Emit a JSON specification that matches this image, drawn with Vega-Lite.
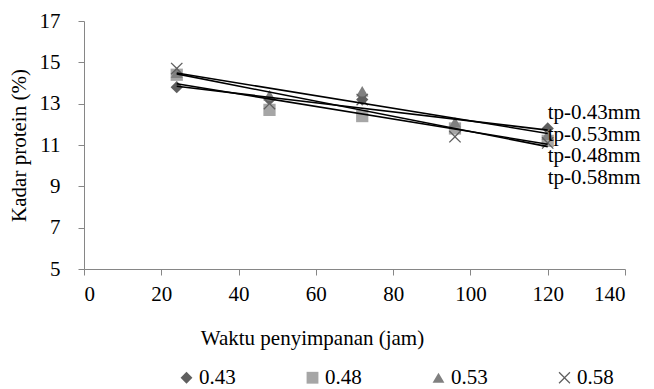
{
  "$schema": "https://vega.github.io/schema/vega-lite/v6.json",
  "width": 541,
  "height": 248,
  "padding": {"left": 8, "top": 10, "right": 5, "bottom": 0},
  "background": "white",
  "config": {
    "font": "Liberation Serif",
    "view": {"stroke": null},
    "axis": {"labelFont": "Liberation Serif", "titleFont": "Liberation Serif", "labelFontSize": 21, "titleFontSize": 21, "titleFontWeight": "normal", "labelColor": "#000000", "titleColor": "#000000", "domainColor": "#868686", "tickColor": "#868686", "grid": false, "tickSize": 6},
    "legend": {"labelFont": "Liberation Serif", "labelFontSize": 21, "labelColor": "#000000"}
  },
  "datasets": {
    "pts": [
      {"x": 24, "y": 13.8, "series": "0.43"},
      {"x": 48, "y": 13.2, "series": "0.43"},
      {"x": 72, "y": 13.2, "series": "0.43"},
      {"x": 96, "y": 11.9, "series": "0.43"},
      {"x": 120, "y": 11.8, "series": "0.43"},
      {"x": 24, "y": 14.4, "series": "0.48"},
      {"x": 48, "y": 12.7, "series": "0.48"},
      {"x": 72, "y": 12.4, "series": "0.48"},
      {"x": 96, "y": 11.8, "series": "0.48"},
      {"x": 120, "y": 11.2, "series": "0.48"},
      {"x": 24, "y": 14.5, "series": "0.53"},
      {"x": 48, "y": 13.4, "series": "0.53"},
      {"x": 72, "y": 13.6, "series": "0.53"},
      {"x": 96, "y": 12.1, "series": "0.53"},
      {"x": 120, "y": 11.5, "series": "0.53"},
      {"x": 24, "y": 14.7, "series": "0.58"},
      {"x": 48, "y": 13.0, "series": "0.58"},
      {"x": 72, "y": 13.2, "series": "0.58"},
      {"x": 96, "y": 11.4, "series": "0.58"},
      {"x": 120, "y": 11.1, "series": "0.58"}
    ],
    "labels": [
      {"x": 120, "y": 12.55, "label": "tp-0.43mm"},
      {"x": 120, "y": 11.5, "label": "tp-0.53mm"},
      {"x": 120, "y": 10.45, "label": "tp-0.48mm"},
      {"x": 120, "y": 9.4, "label": "tp-0.58mm"}
    ]
  },
  "layer": [
    {
      "data": {"name": "pts"},
      "mark": {"type": "point", "filled": true, "opacity": 1, "size": 150},
      "encoding": {
        "x": {"field": "x", "type": "quantitative", "scale": {"domain": [0, 140]}, "axis": {"values": [0, 20, 40, 60, 80, 100, 120, 140], "title": "Waktu penyimpanan (jam)", "labelPadding": 8, "titlePadding": 23, "titleX": 228, "titleAlign": "center"}},
        "y": {"field": "y", "type": "quantitative", "scale": {"domain": [5, 17]}, "axis": {"values": [5, 7, 9, 11, 13, 15, 17], "title": "Kadar protein (%)", "labelPadding": 18, "titlePadding": 10}},
        "shape": {"field": "series", "type": "nominal", "scale": {"domain": ["0.43", "0.48", "0.53", "0.58"], "range": ["diamond", "square", "triangle-up", "M-1,-0.85L-0.85,-1L0,-0.15L0.85,-1L1,-0.85L0.15,0L1,0.85L0.85,1L0,0.15L-0.85,1L-1,0.85L-0.15,0Z"]}, "legend": {"title": null, "orient": "none", "direction": "horizontal", "legendX": 92, "legendY": 346, "columnPadding": 66, "symbolSize": 140, "labelOffset": 2}},
        "color": {"field": "series", "type": "nominal", "scale": {"domain": ["0.43", "0.48", "0.53", "0.58"], "range": ["#5f5f5f", "#a6a6a6", "#808080", "#5f5f5f"]}, "legend": {"title": null, "orient": "none", "direction": "horizontal", "legendX": 92, "legendY": 346, "columnPadding": 66, "symbolSize": 140, "labelOffset": 2}}
      }
    },
    {
      "data": {"name": "pts"},
      "transform": [{"regression": "y", "on": "x", "groupby": ["series"], "extent": [24, 120]}],
      "mark": {"type": "line", "color": "#000000", "strokeWidth": 1.6},
      "encoding": {
        "x": {"field": "x", "type": "quantitative"},
        "y": {"field": "y", "type": "quantitative"},
        "detail": {"field": "series", "type": "nominal"}
      }
    },
    {
      "data": {"name": "labels"},
      "mark": {"type": "text", "align": "left", "baseline": "middle", "fontSize": 21, "font": "Liberation Serif", "color": "#000000"},
      "encoding": {
        "x": {"field": "x", "type": "quantitative"},
        "y": {"field": "y", "type": "quantitative"},
        "text": {"field": "label"}
      }
    }
  ]
}
